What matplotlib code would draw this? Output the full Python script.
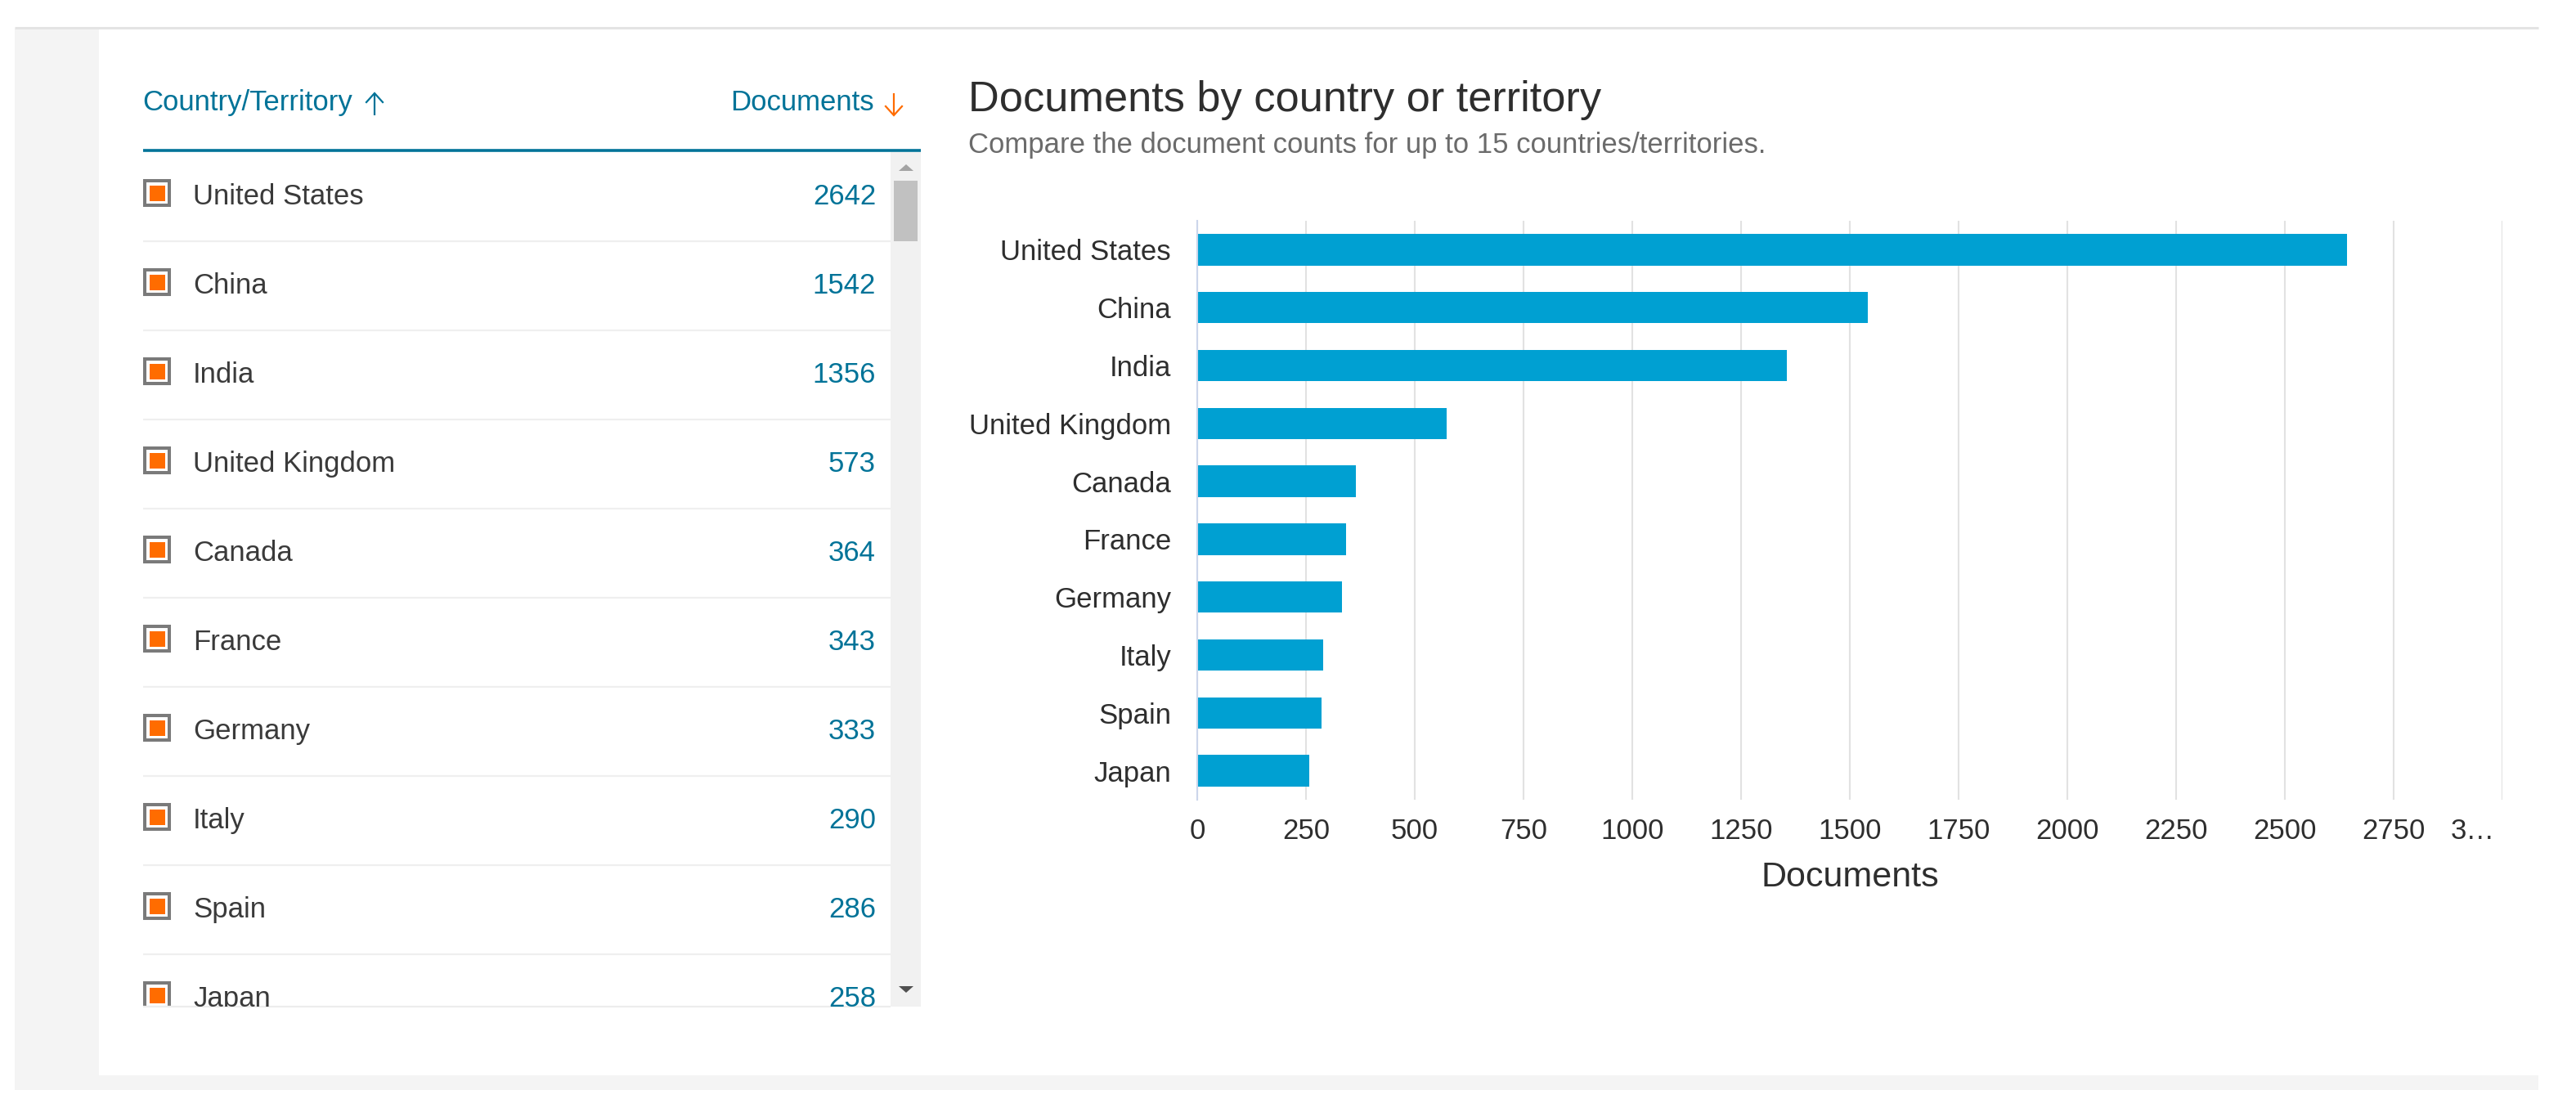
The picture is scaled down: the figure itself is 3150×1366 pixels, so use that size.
import matplotlib
matplotlib.use("Agg")
import matplotlib.pyplot as plt
from matplotlib.patches import Rectangle, Polygon
from matplotlib.transforms import ScaledTranslation

countries = ["United States", "China", "India", "United Kingdom", "Canada",
             "France", "Germany", "Italy", "Spain", "Japan"]
documents = [2642, 1542, 1356, 573, 364, 343, 333, 290, 286, 258]
xticks = [0, 250, 500, 750, 1000, 1250, 1500, 1750, 2000, 2250, 2500, 2750, 3000]
xticklabels = ["0", "250", "500", "750", "1000", "1250", "1500", "1750", "2000",
               "2250", "2500", "2750", "3\u2026"]

W, H = 3150, 1366
plt.rcParams["font.family"] = ["Liberation Sans", "DejaVu Sans"]
TEAL = "#007398"
ORANGE = "#FF6C00"
DARK = "#2E2E2E"
FS = 25

fig = plt.figure(figsize=(W / 100, H / 100), dpi=100, facecolor="white")

# page chrome in pixel coordinates
bg = fig.add_axes([0, 0, 1, 1])
bg.set_xlim(0, W)
bg.set_ylim(H, 0)
bg.axis("off")
bg.add_patch(Rectangle((18, 35), 3086, 1298, fc="#F4F4F4", ec="none"))
bg.add_patch(Rectangle((121, 35), 2983, 1280, fc="white", ec="none"))
bg.plot([18, 3104], [33.5, 33.5], color="#E4E4E4", lw=2.2, solid_capstyle="butt")

# table header
bg.text(174, 135, "Country/Territory", color=TEAL, fontsize=FS, ha="left", va="baseline")
bg.text(1069, 135, "Documents", color=TEAL, fontsize=FS, ha="right", va="baseline")
bg.plot([458, 458], [114, 141], color=TEAL, lw=1.6, solid_capstyle="butt")
bg.plot([448, 458, 468], [125, 114, 125], color=TEAL, lw=1.6, solid_joinstyle="miter")
bg.plot([1093, 1093], [114, 141], color=ORANGE, lw=1.6, solid_capstyle="butt")
bg.plot([1083, 1093, 1103], [130, 141, 130], color=ORANGE, lw=1.6, solid_joinstyle="miter")
bg.plot([175, 1126], [184, 184], color=TEAL, lw=2.6, solid_capstyle="butt")

# scrollbar
bg.add_patch(Rectangle((1089, 186), 37, 1045, fc="#F1F1F1", ec="none"))
bg.add_patch(Rectangle((1093, 221), 29, 74, fc="#C1C1C1", ec="none"))
bg.add_patch(Polygon([(1099, 209), (1117, 209), (1108, 201)], fc="#A3A3A3", ec="none"))
bg.add_patch(Polygon([(1099, 1206), (1117, 1206), (1108, 1214)], fc="#505050", ec="none"))

# table rows
clip = Rectangle((175, 186), 951, 1045, transform=bg.transData, fc="none", ec="none")
bg.add_patch(clip)
ROW = 109
for i, (name, val) in enumerate(zip(countries, documents)):
    box = Rectangle((177, 221 + ROW * i), 30, 30, fc="white", ec="#7A7A7A", lw=2.9)
    inner = Rectangle((183, 227 + ROW * i), 19, 19, fc=ORANGE, ec="none")
    bg.add_patch(box)
    bg.add_patch(inner)
    box.set_clip_path(clip)
    inner.set_clip_path(clip)
    t1 = bg.text(236, 250 + ROW * i, name, color="#3A3A3A", fontsize=FS, ha="left", va="baseline")
    t2 = bg.text(1071, 250 + ROW * i, str(val), color=TEAL, fontsize=FS, ha="right", va="baseline")
    t1.set_clip_path(clip)
    t2.set_clip_path(clip)
    t1.set_clip_on(True)
    t2.set_clip_on(True)
    if i < len(countries) - 1:
        bg.plot([175, 1089], [295 + ROW * i] * 2, color="#EFEFEF", lw=1.6, solid_capstyle="butt")
bg.plot([175, 1089], [1231, 1231], color="#EDEDED", lw=1.6, solid_capstyle="butt")

# titles
bg.text(1184, 136, "Documents by country or territory", color=DARK, fontsize=37.7,
        ha="left", va="baseline")
bg.text(1184, 187, "Compare the document counts for up to 15 countries/territories.",
        color="#6B6B6B", fontsize=25, ha="left", va="baseline")

# bar chart
left, right, top, bottom = 1464, 3060, 270, 978
ax = fig.add_axes([left / W, 1 - bottom / H, (right - left) / W, (bottom - top) / H])
ax.patch.set_alpha(0)
ax.barh(range(len(countries)), documents, height=0.54, color="#00A0D2", zorder=3)
ax.set_xlim(0, 3000)
ax.set_ylim(len(countries) - 0.5, -0.5)
ax.set_yticks(range(len(countries)))
ax.set_yticklabels(countries, fontsize=FS, color=DARK)
ax.set_xticks(xticks)
ax.set_xticklabels(xticklabels, fontsize=FS, color=DARK)
ax.tick_params(axis="both", length=0)
ax.tick_params(axis="y", pad=23)
ax.tick_params(axis="x", pad=16)
ax.grid(axis="x", color="#E2E2E2", lw=1.5, zorder=0)
ax.set_axisbelow(True)
for s in ["top", "right", "bottom"]:
    ax.spines[s].set_visible(False)
ax.spines["left"].set_color("#CCD6EB")
ax.spines["left"].set_linewidth(1.5)
ax.spines["left"].set_zorder(4)
ax.set_xlabel("Documents", fontsize=31, color=DARK, labelpad=14)

# the last label is truncated and pulled left of its tick
last = ax.get_xticklabels()[-1]
last.set_ha("right")
last.set_transform(last.get_transform() + ScaledTranslation(-9 / 100, 0, fig.dpi_scale_trans))

fig.savefig("out.png", dpi=100, facecolor="white")
